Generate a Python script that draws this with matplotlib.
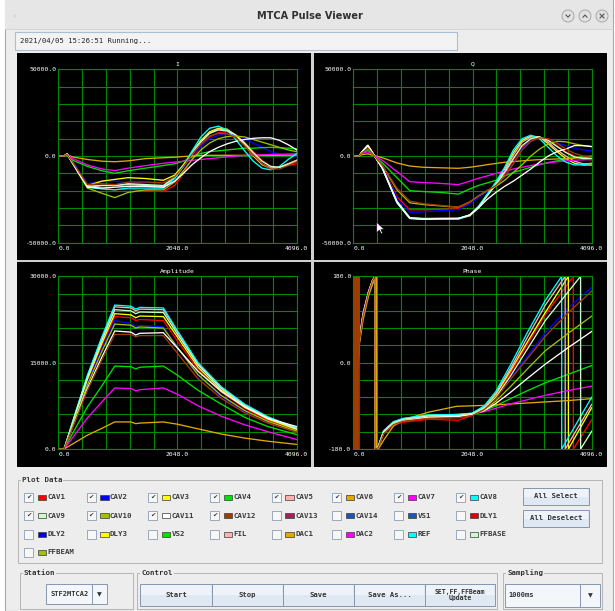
import numpy as np
import matplotlib
matplotlib.use("Agg")
import matplotlib.pyplot as plt
from matplotlib.patches import Rectangle, Circle, Polygon

# ---- channel info ----
CAV_NAMES = ["CAV1", "CAV2", "CAV3", "CAV4", "CAV5", "CAV6",
             "CAV7", "CAV8", "CAV9", "CAV10", "CAV11", "CAV12"]
CAV_COLORS = ["#ff0000", "#0000ff", "#ffff00", "#00e000", "#ffb0b0", "#e0a800",
              "#ff00ff", "#00ffff", "#c8ffc8", "#a0c000", "#ffffff", "#a03c00"]

# ---- I waveform (sample index -> value) ----
I_X = [0, 100, 150, 250, 500, 750, 970, 1200, 1500, 1805, 2000, 2150, 2300,
       2450, 2600, 2750, 2900, 3050, 3200, 3350, 3500, 3650, 3800, 3950, 4096]
I_CAV1 = [0, 0, 1000, -4000, -17000, -18500, -19500, -19000, -20000, -20500, -17000, -10000, -1500,
          6000, 11000, 13500, 14000, 12000, 8000, 2500, -2500, -6000, -6500, -5500, -4500]
I_CAV2 = [0, 0, 1000, -3500, -16000, -14500, -14500, -15500, -15500, -15500, -12500, -6500, 0,
          5500, 10000, 12000, 12800, 12000, 10000, 7500, 5000, 2500, 1000, 500, 0]
I_CAV3 = [0, 0, 1200, -4000, -17000, -14500, -13500, -12500, -13000, -14000, -11000, -5000, 2500,
          9000, 14000, 16000, 15500, 12000, 6500, 0, -5000, -7200, -6500, -4500, -2500]
I_CAV4 = [0, 0, 1000, -2500, -6000, -8500, -10000, -8500, -7000, -5500, -4500, -3000, -500,
          1500, 2500, 3000, 3500, 4000, 4500, 4500, 4800, 5000, 4800, 4500, 4200]
I_CAV5 = [0, 0, 1200, -4500, -18000, -17000, -17000, -16500, -17000, -17500, -12500, -6000, 1500,
          8500, 13500, 15500, 15000, 12000, 7000, 1000, -4500, -7000, -6500, -4500, -2500]
I_CAV6 = [0, 0, 800, -600, -2000, -3000, -3300, -2800, -1500, -1000, -700, -300, 0,
          300, 400, 400, 400, 400, 400, 400, 400, 400, 450, 500, 500]
I_CAV7 = [0, 0, 1000, -1500, -5200, -7500, -8400, -7000, -5500, -4200, -3500, -3000, -2500,
          -2000, -1500, -1000, -500, 0, 300, 500, 700, 900, 1000, 1100, 1200]
I_CAV8 = [0, 0, 1200, -4500, -18000, -19000, -19500, -18500, -18500, -18500, -13000, -6000, 3000,
          11000, 16000, 17200, 15000, 9500, 3000, -3000, -7000, -8000, -6000, -2000, 1500]
I_CAV9 = [0, 0, 1200, -4200, -17500, -17000, -17000, -16000, -16500, -17000, -12000, -5500, 1000,
          8000, 13000, 15000, 14500, 12000, 7500, 2000, -3000, -6000, -6500, -5000, -3000]
I_CAV10 = [0, 0, 1000, -4500, -18500, -21500, -24000, -21000, -19500, -19500, -15000, -8500, -2000,
           3500, 7500, 10000, 11200, 11500, 11000, 9500, 8000, 6500, 5000, 3500, 2500]
I_CAV11 = [0, 0, 1200, -4300, -18000, -18500, -18000, -17500, -17500, -18000, -14500, -10000, -5000,
           -1000, 2500, 5000, 7000, 8500, 9500, 10200, 10500, 10500, 9000, 6500, 3500]
I_CAV12 = [0, 0, 1000, -3800, -16500, -16000, -16500, -15000, -15000, -15500, -12000, -6000, 1000,
           7000, 11500, 13000, 12800, 10500, 6000, 500, -4500, -7500, -7500, -5500, -3300]

# ---- Q waveform ----
Q_X = I_X
Q_CAV1 = [0, 0, 1800, 4500, -6000, -23500, -31000, -31000, -30800, -30500, -27000, -23500, -20000,
          -17000, -11000, -2500, 5000, 9500, 10800, 9500, 6000, 2500, 0, -1500, -2300]
Q_CAV2 = [0, 0, 2000, 5000, -6300, -24500, -32500, -32200, -31500, -31000, -27500, -24000, -20500,
          -17500, -12000, -4000, 4000, 8500, 10200, 9000, 7500, 6000, 4500, 3500, 3000]
Q_CAV3 = [0, 0, 2500, 6300, -7000, -26500, -35800, -36200, -36000, -36000, -34500, -29500, -22500,
          -15500, -7500, 2000, 9000, 11500, 11000, 7000, 2500, -1500, -4200, -5200, -5200]
Q_CAV4 = [0, 0, 1500, 3500, -4000, -12500, -20000, -20500, -21000, -22000, -19000, -17000, -15500,
          -14000, -11500, -9500, -8000, -6500, -5000, -3800, -2800, -1800, -1000, -300, 0]
Q_CAV5 = [0, 0, 2300, 6000, -7000, -26500, -35800, -36300, -36300, -36200, -34500, -30000, -23000,
          -16000, -8500, 500, 8000, 11000, 11000, 8000, 3500, 0, -3000, -4500, -4300]
Q_CAV6 = [0, 0, 800, 1200, -1000, -4000, -5800, -6500, -6800, -7100, -6500, -5800, -5000,
          -4300, -3600, -3200, -2800, -2400, -2100, -1900, -1700, -1500, -1200, -900, -600]
Q_CAV7 = [0, 0, 1500, 2500, -2500, -9000, -14800, -15300, -15800, -16500, -14500, -12800, -11500,
          -10000, -8800, -7500, -6500, -5500, -4700, -4000, -3300, -2800, -2400, -2200, -2000]
Q_CAV8 = [0, 0, 2500, 6200, -7000, -27000, -36000, -36500, -36500, -36500, -34000, -29000, -22000,
          -15000, -6500, 3500, 10000, 12000, 10000, 5000, 0, -3500, -5200, -5000, -4200]
Q_CAV9 = [0, 0, 2300, 6000, -7000, -26000, -35500, -36000, -36000, -36000, -34000, -29500, -23000,
          -16500, -9500, -1500, 6000, 10000, 11000, 9000, 5500, 2000, -500, -1500, -1300]
Q_CAV10 = [0, 0, 1800, 4500, -5500, -19500, -27000, -28000, -28800, -29500, -26500, -23000, -20000,
           -17500, -14000, -9500, -5000, 0, 4000, 7000, 8500, 8200, 7000, 6000, 5500]
Q_CAV11 = [0, 0, 2400, 6100, -7200, -26800, -36000, -36500, -36200, -36000, -34000, -30000, -25000,
           -21000, -17500, -14500, -11000, -7500, -3500, 0, 2500, 4000, 6000, 6000, 5400]
Q_CAV12 = [0, 0, 1800, 4500, -5500, -18500, -26000, -27500, -28500, -29500, -26500, -23000, -20000,
           -17000, -12000, -4500, 3500, 8500, 10500, 10000, 7500, 4000, 1500, 0, -800]

# ---- Amplitude ----
AMP_X = [0, 100, 300, 500, 750, 970, 1250, 1330, 1400, 1805, 2050, 2400, 2800, 3200, 3600, 4096]
AMP_CAV1 = [0, 0, 6000, 11800, 18000, 23000, 22800, 22300, 22500, 22300, 18700, 13800, 9900, 7100, 5000, 3200]
AMP_CAV2 = [0, 0, 5800, 11500, 17500, 22300, 21800, 21300, 21500, 21200, 17600, 12800, 9100, 6500, 4600, 3000]
AMP_CAV3 = [0, 0, 6100, 12100, 18400, 23500, 23300, 22800, 23100, 23000, 19400, 14200, 10200, 7300, 5200, 3400]
AMP_CAV4 = [0, 0, 3700, 7300, 11000, 14400, 14300, 13900, 14200, 14400, 12800, 10200, 7800, 5500, 3900, 2500]
AMP_CAV5 = [0, 0, 6400, 12700, 19300, 24700, 24500, 24000, 24300, 24200, 20300, 14800, 10700, 7700, 5500, 3600]
AMP_CAV6 = [0, 0, 1200, 2400, 3600, 4700, 4700, 4400, 4500, 4700, 4300, 3500, 2600, 1900, 1350, 800]
AMP_CAV7 = [0, 0, 2700, 5400, 8200, 10600, 10500, 10100, 10300, 10600, 9500, 7500, 5700, 4200, 3000, 1650]
AMP_CAV8 = [0, 0, 6500, 12800, 19500, 25000, 24800, 24300, 24600, 24500, 20500, 15000, 10800, 7800, 5600, 3650]
AMP_CAV9 = [0, 0, 6300, 12400, 18900, 24200, 24000, 23500, 23800, 23700, 19900, 14600, 10500, 7500, 5400, 3500]
AMP_CAV10 = [0, 0, 5600, 11100, 17000, 21700, 21500, 21000, 21200, 21000, 17600, 12900, 9300, 6700, 4800, 3100]
AMP_CAV11 = [0, 0, 5300, 10500, 16000, 20500, 20300, 19800, 20100, 20200, 17500, 13500, 10000, 7300, 5300, 3900]
AMP_CAV12 = [0, 0, 5100, 10200, 15500, 19900, 19900, 19500, 19700, 19700, 16600, 12200, 8800, 6300, 4500, 2900]

# ---- Phase (deg), early part shared x, late part per channel ----
PH_X_EARLY = [0, 5, 10, 15, 103, 170, 260, 330, 373, 374, 430, 520, 690, 860, 1300, 1805, 2048]
PH_EARLY_CAV1 = [-150, 170, -120, 160, 42, 98, 144, 170, 180, -180, -177, -148, -130, -124, -118, -120, -110]
PH_EARLY_CAV2 = [160, -170, 150, -140, 45, 100, 145, 170, 180, -180, -176, -146, -127, -120, -114, -113, -108]
PH_EARLY_CAV3 = [-170, 175, -165, 120, 46, 101, 146, 171, 180, -180, -175, -144, -125, -118, -110, -108, -106]
PH_EARLY_CAV4 = [120, -160, 170, -175, 44, 99, 145, 170, 180, -180, -176, -145, -126, -119, -112, -110, -107]
PH_EARLY_CAV5 = [175, -150, 165, -170, 50, 104, 147, 171, 180, -180, -175, -143, -124, -117, -110, -109, -106]
PH_EARLY_CAV7 = [-165, 160, -175, 170, 55, 106, 148, 172, 180, -180, -176, -146, -127, -120, -112, -110, -107]
PH_EARLY_CAV8 = [170, -175, 160, -160, 47, 102, 146, 171, 180, -180, -174, -142, -123, -116, -109, -108, -105]
PH_EARLY_CAV9 = [-175, 178, -170, 175, 46, 101, 146, 171, 180, -180, -175, -144, -125, -118, -111, -110, -106]
PH_EARLY_CAV10 = [178, -178, 170, -150, 43, 99, 145, 170, 180, -180, -176, -147, -128, -121, -114, -112, -108]
PH_EARLY_CAV11 = [-160, 165, -178, 172, 45, 100, 145, 170, 180, -180, -176, -146, -128, -121, -114, -112, -108]
PH_X_EARLY_CAV6 = [0, 5, 10, 15, 103, 170, 260, 330, 400, 401, 430, 520, 690, 860, 1300, 1776, 2048]
PH_EARLY_CAV6 = [165, -175, 150, -165, 38, 90, 138, 163, 180, -180, -180, -162, -132, -119, -103, -91, -90]
PH_X_EARLY_CAV12 = [0, 16, 22, 28, 34, 40, 46, 52, 58, 64, 70, 76, 82, 88, 94, 100,
                    103, 170, 260, 330, 373, 374, 430, 520, 690, 860, 1300, 1805, 2048]
PH_EARLY_CAV12 = [-175, 180, -180, 180, -180, 180, -180, 180, -180, 180, -180, 180, -180, 180, -180, 180,
                  42, 98, 144, 170, 180, -180, -177, -148, -129, -122, -116, -115, -110]

PH_X_LATE_CAV1 = [2250, 2450, 2700, 3000, 3300, 3780, 3781, 4096]
PH_LATE_CAV1 = [-97, -70, -22, 40, 100, 180, -180, -119]
PH_X_LATE_CAV2 = [2250, 2450, 2700, 3000, 3300, 3700, 4096]
PH_LATE_CAV2 = [-96, -72, -32, 15, 62, 115, 157]
PH_X_LATE_CAV3 = [2250, 2450, 2700, 3000, 3300, 3695, 3696, 4096]
PH_LATE_CAV3 = [-93, -66, -17, 45, 105, 180, -180, -94]
PH_X_LATE_CAV4 = [2250, 2450, 2700, 3000, 3300, 3700, 4096]
PH_LATE_CAV4 = [-100, -90, -75, -58, -42, -24, -6]
PH_X_LATE_CAV5 = [2250, 2450, 2700, 3000, 3300, 3640, 3641, 4096]
PH_LATE_CAV5 = [-92, -64, -12, 55, 120, 180, -180, -87]
PH_X_LATE_CAV6 = [2450, 3000, 3700, 4096]
PH_LATE_CAV6 = [-88, -84, -79, -75]
PH_X_LATE_CAV7 = [2250, 2450, 2700, 3000, 3300, 3700, 4096]
PH_LATE_CAV7 = [-102, -95, -86, -77, -68, -58, -49]
PH_X_LATE_CAV8 = [2250, 2450, 2700, 3000, 3300, 3580, 3581, 4096]
PH_LATE_CAV8 = [-90, -60, -5, 65, 130, 180, -180, -72]
PH_X_LATE_CAV9 = [2250, 2450, 2700, 3000, 3300, 3905, 3906, 4096]
PH_LATE_CAV9 = [-95, -72, -28, 30, 88, 180, -180, -143]
PH_X_LATE_CAV10 = [2250, 2450, 2700, 3000, 3300, 3700, 4096]
PH_LATE_CAV10 = [-98, -80, -50, -12, 25, 62, 97]
PH_X_LATE_CAV11 = [2250, 2450, 2700, 3000, 3300, 3700, 4096]
PH_LATE_CAV11 = [-100, -85, -62, -32, -3, 32, 65]
PH_X_LATE_CAV12 = [2250, 2450, 2700, 3000, 3300, 3700, 4096]
PH_LATE_CAV12 = [-98, -75, -35, 10, 55, 105, 149]

# ---- GUI texts ----
WINDOW_TITLE = "MTCA Pulse Viewer"
STATUS_TEXT = "2021/04/05 15:26:51 Running..."
PANEL_TITLES = ["I", "Q", "Amplitude", "Phase"]
PANEL_YLABELS = [["-50000.0", "0.0", "50000.0"], ["-50000.0", "0.0", "50000.0"],
                 ["0.0", "15000.0", "30000.0"], ["-180.0", "0.0", "180.0"]]
PANEL_YLIMS = [(-50000, 50000), (-50000, 50000), (0, 30000), (-180, 180)]
X_LABELS = ["0.0", "2048.0", "4096.0"]

CHECK_LABELS = ["CAV1", "CAV2", "CAV3", "CAV4", "CAV5", "CAV6", "CAV7", "CAV8",
                "CAV9", "CAV10", "CAV11", "CAV12", "CAV13", "CAV14", "VS1", "DLY1",
                "DLY2", "DLY3", "VS2", "FIL", "DAC1", "DAC2", "REF", "FFBASE", "FFBEAM"]
CHECK_COLORS = CAV_COLORS + ["#a0205a", "#1a55b8", "#1a55b8", "#e00000",
                             "#0000e0", "#ffff00", "#00e000", "#ffb0b0", "#e0a800",
                             "#ff00ff", "#00ffff", "#c8ffc8", "#a0c000"]
CHECKED = [True] * 12 + [False] * 13
CONTROL_BUTTONS = ["Start", "Stop", "Save", "Save As...", "SET,FF,FFBeam\nUpdate"]

# ---------------------------------------------------------------
W, H = 615, 611
MONO = "DejaVu Sans Mono"
GRID = "#008a00"
BG = "#ededed"


def px_rect(x0, y0, x1, y1):
    return [x0 / W, 1 - y1 / H, (x1 - x0) / W, (y1 - y0) / H]


fig = plt.figure(figsize=(W / 100, H / 100), dpi=100)
fig.patch.set_facecolor("white")

bg = fig.add_axes([0, 0, 1, 1])
bg.set_xlim(0, W)
bg.set_ylim(H, 0)
bg.axis("off")


def box(x0, y0, x1, y1, fc, ec="none", lw=0.8, z=1):
    bg.add_patch(Rectangle((x0, y0), x1 - x0, y1 - y0, facecolor=fc,
                           edgecolor=ec, linewidth=lw, zorder=z))


def button(x0, y0, x1, y1, label, size=5.2):
    box(x0, y0, x1, y1, "#dfe8f3", "#8797ab", 0.7, z=2)
    box(x0 + 1, y0 + 1, x1 - 1, (y0 + y1) / 2, "#eef3f9", z=2)
    bg.text((x0 + x1) / 2, (y0 + y1) / 2, label, ha="center", va="center",
            fontsize=size, family=MONO, weight="bold", color="#333333",
            linespacing=1.1, zorder=3)


def group(x0, y0, x1, y1, title):
    box(x0, y0, x1, y1, "none", "#b5b5b5", 0.7)
    bg.text(x0 + 4, y0, title, ha="left", va="center", fontsize=5.3, family=MONO,
            weight="bold", color="#333333", zorder=3,
            bbox=dict(facecolor=BG, edgecolor="none", pad=0.6))


# window + title bar
box(5, 0, 613, 611, BG, "#a8a8a8", 0.8)
box(5, 0, 613, 29, "#e6e6e6")
bg.plot([5, 613], [29, 29], color="#d2d2d2", lw=0.6)
bg.add_patch(Circle((15, 16), 1.6, facecolor="#d8d8d8", edgecolor="none"))
bg.text(310, 16, WINDOW_TITLE, ha="center", va="center", fontsize=7.0,
        family="DejaVu Sans", weight="bold", color="#303030")
for cx in (568, 585, 602):
    bg.add_patch(Circle((cx, 16), 6, facecolor="#e2e2e2", edgecolor="#a9a9a9", lw=0.7))
bg.plot([566, 568, 570], [15, 17.2, 15], color="#555555", lw=0.8)
bg.plot([583, 585, 587], [17.2, 15, 17.2], color="#555555", lw=0.8)
bg.plot([600, 604], [14, 18], color="#555555", lw=0.8)
bg.plot([600, 604], [18, 14], color="#555555", lw=0.8)

# status line
box(15, 32, 457, 50, "#f3f3f3", "#a9bfd6", 0.8)
bg.text(20, 41.5, STATUS_TEXT, ha="left", va="center", fontsize=5.2,
        family=MONO, color="#222222")

# black plot area with separators
box(17, 53, 607, 467, "black")
box(311, 53, 313.5, 467, "#d0d0d0")
box(17, 259.5, 607, 262, "#d0d0d0")

# ---- the four waveform panels ----
i_series = [I_CAV1, I_CAV2, I_CAV3, I_CAV4, I_CAV5, I_CAV6,
            I_CAV7, I_CAV8, I_CAV9, I_CAV10, I_CAV11, I_CAV12]
q_series = [Q_CAV1, Q_CAV2, Q_CAV3, Q_CAV4, Q_CAV5, Q_CAV6,
            Q_CAV7, Q_CAV8, Q_CAV9, Q_CAV10, Q_CAV11, Q_CAV12]
amp_series = [AMP_CAV1, AMP_CAV2, AMP_CAV3, AMP_CAV4, AMP_CAV5, AMP_CAV6,
              AMP_CAV7, AMP_CAV8, AMP_CAV9, AMP_CAV10, AMP_CAV11, AMP_CAV12]
ph_early_x = [PH_X_EARLY] * 5 + [PH_X_EARLY_CAV6] + [PH_X_EARLY] * 5 + [PH_X_EARLY_CAV12]
ph_early = [PH_EARLY_CAV1, PH_EARLY_CAV2, PH_EARLY_CAV3, PH_EARLY_CAV4, PH_EARLY_CAV5,
            PH_EARLY_CAV6, PH_EARLY_CAV7, PH_EARLY_CAV8, PH_EARLY_CAV9, PH_EARLY_CAV10,
            PH_EARLY_CAV11, PH_EARLY_CAV12]
ph_late_x = [PH_X_LATE_CAV1, PH_X_LATE_CAV2, PH_X_LATE_CAV3, PH_X_LATE_CAV4,
             PH_X_LATE_CAV5, PH_X_LATE_CAV6, PH_X_LATE_CAV7, PH_X_LATE_CAV8,
             PH_X_LATE_CAV9, PH_X_LATE_CAV10, PH_X_LATE_CAV11, PH_X_LATE_CAV12]
ph_late = [PH_LATE_CAV1, PH_LATE_CAV2, PH_LATE_CAV3, PH_LATE_CAV4, PH_LATE_CAV5,
           PH_LATE_CAV6, PH_LATE_CAV7, PH_LATE_CAV8, PH_LATE_CAV9, PH_LATE_CAV10,
           PH_LATE_CAV11, PH_LATE_CAV12]

panel_lines = [
    [(I_X, s) for s in i_series],
    [(Q_X, s) for s in q_series],
    [(AMP_X, s) for s in amp_series],
    [(ex + lx, ey + ly) for ex, ey, lx, ly in zip(ph_early_x, ph_early, ph_late_x, ph_late)],
]
panel_rects = [(58.3, 69.3, 296.7, 242.7), (353.3, 69.3, 591.7, 242.7),
               (58.3, 276.3, 296.7, 449.0), (353.3, 276.3, 591.7, 449.0)]

for rect, title, lines, (ymin, ymax), ylabs in zip(panel_rects, PANEL_TITLES, panel_lines,
                                                   PANEL_YLIMS, PANEL_YLABELS):
    ax = fig.add_axes(px_rect(*rect))
    ax.set_facecolor("black")
    for (xs, ys), color in zip(lines, CAV_COLORS):
        ax.plot(xs, ys, color=color, lw=0.95, solid_joinstyle="miter")
    ax.set_xlim(0, 4096)
    ax.set_ylim(ymin, ymax)
    ax.set_xticks(np.linspace(0, 4096, 11))
    ax.set_yticks(np.linspace(ymin, ymax, 11))
    xl = [""] * 11
    xl[0], xl[5], xl[10] = X_LABELS
    yl = [""] * 11
    yl[0], yl[5], yl[10] = ylabs
    ax.set_xticklabels(xl, family=MONO, fontsize=4.6, color="white")
    ax.set_yticklabels(yl, family=MONO, fontsize=4.6, color="white")
    ax.get_xticklabels()[0].set_ha("left")
    ax.tick_params(length=0, pad=2.5)
    ax.tick_params(axis="y", pad=1.2)
    ax.grid(True, color=GRID, lw=0.8)
    ax.set_axisbelow(True)
    for sp in ax.spines.values():
        sp.set_color(GRID)
        sp.set_linewidth(0.8)
    ax.set_title(title, family=MONO, fontsize=4.6, color="white", pad=2.5)

# ---- Plot Data group ----
group(18, 480, 602, 563, "Plot Data")
COL_X = [28.8, 91.2, 152.8, 214.5, 276.2, 336.8, 398.8, 460.5]
ROW_Y = [497, 515.5, 534, 552]
for k, (lab, col, chk) in enumerate(zip(CHECK_LABELS, CHECK_COLORS, CHECKED)):
    cx = COL_X[k % 8]
    cy = ROW_Y[k // 8]
    box(cx - 4.5, cy - 4.5, cx + 4.5, cy + 4.5, "#f7f7f7", "#8d9db2", 0.6, z=2)
    if chk:
        bg.text(cx, cy + 0.3, "\u2714", ha="center", va="center", fontsize=4.6,
                family="DejaVu Sans", color="#333333", zorder=3)
    box(cx + 9, cy - 2.5, cx + 17.5, cy + 2.5, col, "#3a3a3a", 0.5, z=2)
    bg.text(cx + 18.8, cy, lab, ha="left", va="center", fontsize=5.3,
            family=MONO, weight="bold", color="#3a3a3a", zorder=3)

button(523, 488, 589, 505, "All Select")
button(523, 510, 589, 527, "All Deselect")

# ---- Station / Control / Sampling ----
group(20, 573, 132.5, 609, "Station")
box(46.3, 584.4, 106.7, 604, "#f3f6fa", "#8797ab", 0.7, z=2)
bg.plot([92.2, 92.2], [584.4, 604], color="#8797ab", lw=0.7, zorder=3)
bg.text(69.2, 594.2, "STF2MTCA2", ha="center", va="center", fontsize=5.0,
        family=MONO, weight="bold", color="#333333", zorder=3)
bg.text(99.5, 594.5, "\u25bc", ha="center", va="center", fontsize=4.5,
        family="DejaVu Sans", color="#333333", zorder=3)

group(137.3, 573, 497.3, 609, "Control")
edges = [140.4, 211.8, 283.1, 354.1, 424.7, 494.9]
for x0, x1, lab in zip(edges[:-1], edges[1:], CONTROL_BUTTONS):
    size = 4.7 if "\n" in lab else 5.2
    button(x0, 583.5, x1, 606.3, lab, size)

group(503.1, 573, 602, 609, "Sampling")
box(505, 583.5, 600, 607, "#f3f6fa", "#8797ab", 0.7, z=2)
bg.plot([580.4, 580.4], [583.5, 607], color="#8797ab", lw=0.7, zorder=3)
bg.text(508.5, 595, "1000ms", ha="left", va="center", fontsize=5.0,
        family=MONO, weight="bold", color="#333333", zorder=3)
bg.text(590.5, 595.5, "\u25bc", ha="center", va="center", fontsize=4.5,
        family="DejaVu Sans", color="#333333", zorder=3)

# mouse pointer over the Q panel
top = fig.add_axes([0, 0, 1, 1])
top.set_xlim(0, W)
top.set_ylim(H, 0)
top.axis("off")
top.patch.set_alpha(0)
tx, ty = 376.5, 222
top.add_patch(Polygon([(tx, ty), (tx, ty + 11), (tx + 2.8, ty + 8.2), (tx + 4.8, ty + 12),
                       (tx + 6.3, ty + 11.3), (tx + 4.4, ty + 7.6), (tx + 8, ty + 7.6)],
                      closed=True, facecolor="white", edgecolor="black", lw=0.5))

fig.savefig("out.png", dpi=100, facecolor=fig.get_facecolor())
